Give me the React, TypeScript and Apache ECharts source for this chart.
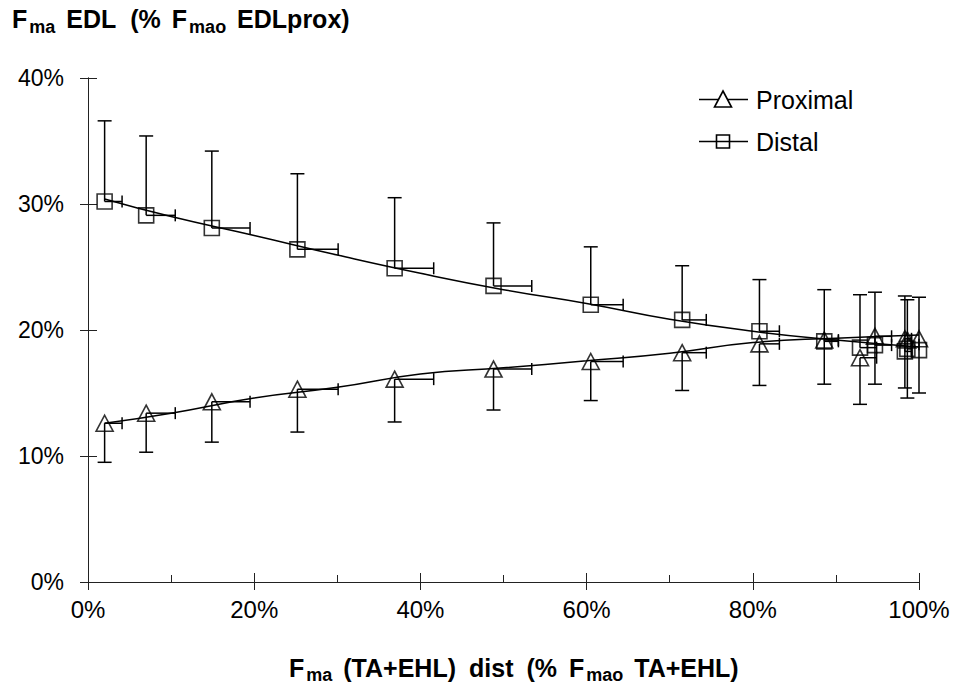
import React, { useEffect, useRef } from "react";
import * as echarts from "echarts";

// ---- data (percent values) ----
const xValues = [2.0, 7.0, 14.9, 25.2, 36.9, 48.8, 60.5, 71.5, 80.8, 88.6, 92.9, 94.7, 98.3, 98.6, 100];
const xErrHigh = [4.1, 10.5, 19.5, 30.1, 41.6, 53.4, 64.4, 74.4, 83.2, 90.3, 94.9, 96.7, 99.1, 99.1, 100];

const distalY = [30.2, 29.1, 28.1, 26.4, 24.9, 23.5, 22.0, 20.8, 19.9, 19.1, 18.6, 18.8, 18.3, 18.5, 18.4];
const distalHigh = [36.6, 35.4, 34.2, 32.4, 30.5, 28.5, 26.6, 25.1, 24.0, 23.2, 22.8, 23.0, 22.7, 22.4, 22.6];

const proximalY = [12.6, 13.4, 14.3, 15.3, 16.1, 16.9, 17.5, 18.2, 18.9, 19.2, 17.8, 19.5, 19.3, 19.2, 19.3];
const proximalLow = [9.5, 10.3, 11.1, 11.9, 12.7, 13.65, 14.4, 15.2, 15.6, 15.7, 14.1, 15.7, 15.4, 14.6, 15.0];

const trendX = [2, 10, 20, 30, 40, 50, 60, 70, 80, 90, 100];
const distalTrend = [30.4, 29.0, 27.5, 25.95, 24.5, 23.2, 22.1, 20.85, 19.9, 19.2, 18.65];
const proximalTrend = [12.6, 13.4, 14.6, 15.45, 16.5, 17.0, 17.55, 18.15, 19.0, 19.35, 19.6];

const legendNames = ["Proximal", "Distal"];
// axis titles as [text, isSubscript] segments
const yTitleParts: [string, boolean][] = [["F", false], ["ma", true], ["EDL", false], ["(%", false], ["F", false], ["mao", true], ["EDLprox)", false]];
const xTitleParts: [string, boolean][] = [["F", false], ["ma", true], ["(TA+EHL)", false], ["dist", false], ["(%", false], ["F", false], ["mao", true], ["TA+EHL)", false]];

const FONT = "'Liberation Sans', Arial, sans-serif";

export default function App() {
  const ref = useRef<HTMLDivElement>(null);

  useEffect(() => {
    if (!ref.current) return;
    const chart = echarts.init(ref.current, null, { renderer: "svg" });

    const MAIN = 25;
    const SUB = 18;
    const buildTitle = (parts: [string, boolean][], x0: number, baseline: number, gaps: number[], subDrop: number) => {
      const els: any[] = [];
      let x = x0;
      parts.forEach(([t, sub], i) => {
        const size = sub ? SUB : MAIN;
        const w = (echarts.format as any).getTextRect
          ? (echarts.format as any).getTextRect(t, `bold ${size}px ${FONT}`).width
          : t.length * size * 0.6;
        const bl = sub ? baseline + subDrop : baseline;
        els.push({
          type: "text",
          x,
          y: bl - size * 0.35,
          style: {
            text: t,
            fontFamily: FONT,
            fontWeight: "bold",
            fontSize: size,
            fill: "#000",
            verticalAlign: "middle",
            align: "left",
          },
        });
        x += w + (gaps[i] || 0);
      });
      return els;
    };

    const errData = (ys: number[], yEnd: number[]) =>
      xValues.map((x, i) => [x, ys[i], yEnd[i], xErrHigh[i]]);

    const renderErr = (params: any, api: any) => {
      const x = api.value(0);
      const y = api.value(1);
      const yEnd = api.value(2);
      const xEnd = api.value(3);
      const p = api.coord([x, y]);
      const pv = api.coord([x, yEnd]);
      const ph = api.coord([xEnd, y]);
      const st = { stroke: "#000", lineWidth: 1.5 };
      const children: any[] = [
        { type: "line", shape: { x1: p[0], y1: p[1], x2: pv[0], y2: pv[1] }, style: st },
        { type: "line", shape: { x1: pv[0] - 7, y1: pv[1], x2: pv[0] + 7, y2: pv[1] }, style: st },
      ];
      if (ph[0] - p[0] > 1) {
        children.push(
          { type: "line", shape: { x1: p[0], y1: p[1], x2: ph[0], y2: ph[1] }, style: st },
          { type: "line", shape: { x1: ph[0], y1: ph[1] - 6, x2: ph[0], y2: ph[1] + 6 }, style: st }
        );
      }
      return { type: "group", children };
    };

    const axisCommon = {
      type: "value" as const,
      min: 0,
      splitLine: { show: false },
      axisLine: { show: true, lineStyle: { color: "#222", width: 1 } },
    };

    const option: any = {
      animation: false,
      backgroundColor: "#fff",
      grid: { left: 88, right: 39, top: 78, bottom: 105, containLabel: false },
      xAxis: [
        {
          ...axisCommon,
          max: 100,
          interval: 20,
          position: "bottom",
          axisTick: { show: true, inside: false, length: 8, lineStyle: { color: "#222" } },
          axisLabel: {
            formatter: "{value}%",
            fontFamily: FONT,
            fontSize: 24,
            color: "#000",
            margin: 15,
          },
        },
        {
          ...axisCommon,
          max: 100,
          interval: 20,
          position: "bottom",
          axisTick: { show: true, inside: true, length: 9, lineStyle: { color: "#222" } },
          minorTick: { show: true, splitNumber: 2, length: 7, lineStyle: { color: "#222" } },
          axisLabel: { show: false },
        },
      ],
      yAxis: [
        {
          ...axisCommon,
          max: 40,
          interval: 10,
          axisTick: { show: true, inside: false, length: 8, lineStyle: { color: "#222" } },
          axisLabel: {
            formatter: "{value}%",
            fontFamily: FONT,
            fontSize: 23,
            color: "#000",
            margin: 24,
          },
        },
        {
          ...axisCommon,
          max: 40,
          interval: 10,
          position: "left",
          axisTick: { show: true, inside: true, length: 9, lineStyle: { color: "#222" } },
          axisLabel: { show: false },
        },
      ],
      series: [
        {
          type: "line",
          name: "proximalTrend",
          data: trendX.map((x, i) => [x, proximalTrend[i]]),
          smooth: true,
          showSymbol: false,
          lineStyle: { color: "#000", width: 1.5 },
          z: 2,
        },
        {
          type: "line",
          name: "distalTrend",
          data: trendX.map((x, i) => [x, distalTrend[i]]),
          smooth: true,
          showSymbol: false,
          lineStyle: { color: "#000", width: 1.5 },
          z: 2,
        },
        {
          type: "custom",
          name: "proximalErr",
          data: errData(proximalY, proximalLow),
          renderItem: renderErr,
          encode: { x: 0, y: 1 },
          clip: false,
          z: 3,
        },
        {
          type: "custom",
          name: "distalErr",
          data: errData(distalY, distalHigh),
          renderItem: renderErr,
          encode: { x: 0, y: 1 },
          clip: false,
          z: 3,
        },
        {
          type: "scatter",
          name: legendNames[0],
          data: xValues.map((x, i) => [x, proximalY[i]]),
          symbol: "triangle",
          symbolSize: [17, 16],
          itemStyle: { color: "rgba(0,0,0,0)", borderColor: "#000", borderWidth: 1.6 },
          z: 4,
        },
        {
          type: "scatter",
          name: legendNames[1],
          data: xValues.map((x, i) => [x, distalY[i]]),
          symbol: "rect",
          symbolSize: 15,
          itemStyle: { color: "rgba(0,0,0,0)", borderColor: "#000", borderWidth: 1.6 },
          z: 4,
        },
      ],
      graphic: [
        ...buildTitle(yTitleParts, 12, 28, [2, 11, 14, 11, 2, 11, 0], 5),
        ...buildTitle(xTitleParts, 289, 677, [2, 11, 13, 13, 12, 2, 11, 0], 4),
        // legend
        { type: "line", shape: { x1: 699, y1: 99.5, x2: 748, y2: 99.5 }, style: { stroke: "#000", lineWidth: 1.5 } },
        {
          type: "polygon",
          shape: { points: [[723, 91], [731.5, 107], [714.5, 107]] },
          style: { fill: "#fff", stroke: "#000", lineWidth: 1.6 },
        },
        { type: "line", shape: { x1: 699, y1: 141.5, x2: 748, y2: 141.5 }, style: { stroke: "#000", lineWidth: 1.5 } },
        {
          type: "rect",
          shape: { x: 716.5, y: 135, width: 13, height: 13 },
          style: { fill: "rgba(0,0,0,0)", stroke: "#000", lineWidth: 1.6 },
        },
        {
          type: "text",
          x: 756,
          y: 99.5,
          style: { text: legendNames[0], fontFamily: FONT, fontSize: 25, fill: "#000", verticalAlign: "middle" },
        },
        {
          type: "text",
          x: 756,
          y: 141.5,
          style: { text: legendNames[1], fontFamily: FONT, fontSize: 25, fill: "#000", verticalAlign: "middle" },
        },
      ],
    };

    chart.setOption(option);
    return () => chart.dispose();
  }, []);

  return (
    <div
      ref={ref}
      style={{ position: "fixed", left: 0, top: 0, width: 958, height: 687, background: "#fff" }}
    />
  );
}
